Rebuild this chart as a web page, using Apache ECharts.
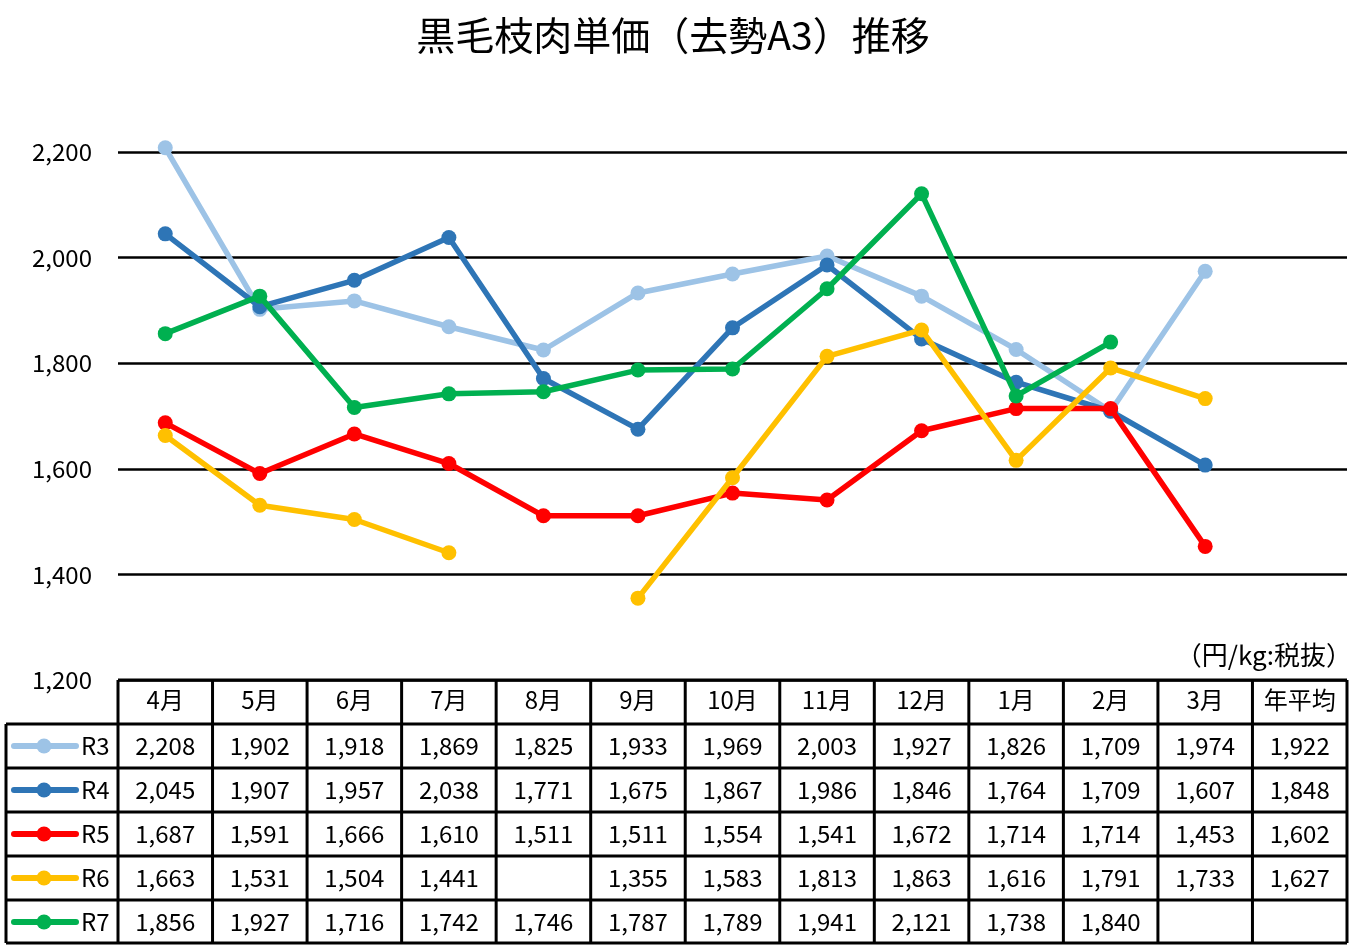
<!DOCTYPE html>
<html><head><meta charset="utf-8">
<script src="https://cdn.jsdelivr.net/npm/echarts@6/dist/echarts.min.js"></script>
<style>html,body{margin:0;padding:0;background:#fff}#c{width:1355px;height:950px}</style>
</head><body><div id="c"></div>
<script>
const categories = ['4月','5月','6月','7月','8月','9月','10月','11月','12月','1月','2月','3月','年平均'];
const seriesNames = ['R3','R4','R5','R6','R7'];
const colors = ['#9DC3E6','#2E75B6','#FF0000','#FFC000','#00B050'];
const R3 = [2208,1902,1918,1869,1825,1933,1969,2003,1927,1826,1709,1974];
const R4 = [2045,1907,1957,2038,1771,1675,1867,1986,1846,1764,1709,1607];
const R5 = [1687,1591,1666,1610,1511,1511,1554,1541,1672,1714,1714,1453];
const R6 = [1663,1531,1504,1441,null,1355,1583,1813,1863,1616,1791,1733];
const R7 = [1856,1927,1716,1742,1746,1787,1789,1941,2121,1738,1840,null];
const averages = [1922,1848,1602,1627,null];
const yTicks = {min:1200, max:2200, interval:200};

const FONT = "'Noto Sans CJK JP', sans-serif";
const values = [R3,R4,R5,R6,R7];
const grid = {left:118, top:152, width:1229, bottom:270};
const chart = echarts.init(document.getElementById('c'));

const series = values.map((v,i)=>({
  name: seriesNames[i], type:'line', data: v.concat([null]),
  connectNulls:false, symbol:'circle', symbolSize:15,
  lineStyle:{width:5.5,color:colors[i]}, itemStyle:{color:colors[i]},
  clip:false, animation:false, z: 3+i
}));

chart.setOption({
  animation:false,
  textStyle:{fontFamily:FONT},
  title:{text:'黒毛枝肉単価（去勢A3）推移', left:668, top:11, textAlign:'center',
    textStyle:{fontSize:39, fontWeight:'normal', color:'#000', fontFamily:FONT}},
  grid:{left:grid.left, top:grid.top, width:grid.width, bottom:grid.bottom, containLabel:false},
  xAxis:{type:'category', data:categories, boundaryGap:true,
    axisLine:{show:false}, axisTick:{show:false},
    axisLabel:{show:true, fontSize:24, color:'#000', margin:8, fontFamily:FONT, interval:0}},
  yAxis:{type:'value', min:yTicks.min, max:yTicks.max, interval:yTicks.interval,
    axisLine:{show:false}, axisTick:{show:false},
    axisLabel:{fontSize:24, color:'#000', margin:26, fontFamily:FONT,
      formatter:v=>v.toLocaleString('en-US')},
    splitLine:{lineStyle:{color:'#000', width:2.5}}},
  series
});

// table
const colW = grid.width/categories.length;
const rowTop = 680, rowH = 44, nRows = 1+seriesNames.length;
const leftX = 6;
const els = [];
const lw = 3;
function line(x1,y1,x2,y2){els.push({type:'line',shape:{x1,y1,x2,y2},style:{stroke:'#000',lineWidth:lw},z:10});}
const right = grid.left+grid.width;
line(grid.left, rowTop, right, rowTop);
for(let r=1;r<=nRows;r++){ const y=rowTop+r*rowH-(r===nRows?1:0); line(leftX, y, right, y); }
line(leftX, rowTop+rowH, leftX, rowTop+nRows*rowH-1);
for(let c=0;c<=categories.length;c++){
  const x = chart.convertToPixel({xAxisIndex:0}, c===categories.length? categories.length-1 : c) + (c===categories.length? colW/2 : -colW/2);
  line(x, rowTop, x, rowTop+nRows*rowH-1);
}
values.forEach((v,i)=>{
  const y = rowTop+(i+1)*rowH+rowH/2;
  const rowVals = v.concat([averages[i]]);
  rowVals.forEach((val,c)=>{
    if(val==null) return;
    const x = chart.convertToPixel({xAxisIndex:0}, c);
    els.push({type:'text', x, y, style:{text:val.toLocaleString('en-US'), fontSize:24, fontFamily:FONT, fill:'#000', align:'center', verticalAlign:'middle'}, z:11});
  });
  els.push({type:'line', shape:{x1:14,y1:y,x2:76,y2:y}, style:{stroke:colors[i], lineWidth:6, lineCap:'round'}, z:11});
  els.push({type:'circle', shape:{cx:44,cy:y,r:7.5}, style:{fill:colors[i]}, z:12});
  els.push({type:'text', x:81, y, style:{text:seriesNames[i], fontSize:24, fontFamily:FONT, fill:'#000', align:'left', verticalAlign:'middle'}, z:11});
});
els.push({type:'text', x:1352, y:655, style:{text:'（円/kg:税抜）', fontSize:26, fontFamily:FONT, fill:'#000', align:'right', verticalAlign:'middle'}, z:11});
chart.setOption({graphic:{elements:els}});
</script></body></html>
